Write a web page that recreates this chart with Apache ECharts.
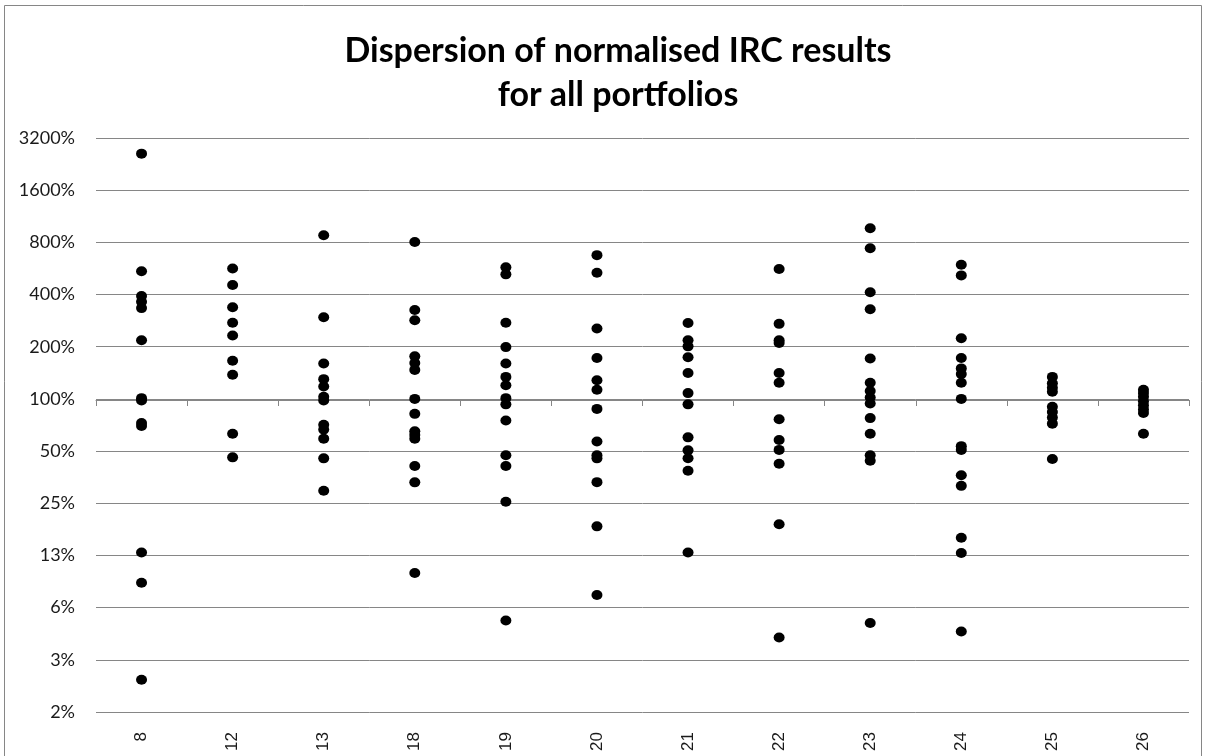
<!DOCTYPE html>
<html>
<head>
<meta charset="utf-8">
<title>Dispersion of normalised IRC results</title>
<script src="https://cdn.jsdelivr.net/npm/echarts@6/dist/echarts.min.js"></script>
<style>
  html, body { margin: 0; padding: 0; background: #ffffff; }
  #chart { width: 1214px; height: 756px; }
</style>
</head>
<body>
<div id="chart"></div>
<script>
// Portfolio identifiers along the horizontal axis
const categories = ['8', '12', '13', '18', '19', '20', '21', '22', '23', '24', '25', '26'];

// Normalised IRC results per portfolio, in percent
const irc8  = [2600, 545, 392, 363, 334, 218, 101, 98, 72.6, 69.7, 13.0, 8.7, 2.4];
const irc12 = [565, 454, 338, 275, 232, 166, 138, 63, 46];
const irc13 = [880, 296, 160, 130, 118, 103, 98, 71, 66.5, 59, 45.4, 29.5];
const irc18 = [803, 326, 284, 176, 161, 147, 100, 82, 65, 62, 59, 41, 33, 9.9];
const irc19 = [574, 523, 275, 199, 160, 134, 120, 101, 93, 75, 47.3, 41, 25.5, 5.27];
const irc20 = [675, 534, 255, 172, 128, 113, 87.6, 56.8, 47.3, 45.4, 33.1, 18.4, 7.4];
const irc21 = [274, 218, 201, 174, 141, 108, 93, 60, 50.5, 45.5, 38.5, 13.0];
const irc22 = [562, 271, 218, 210, 141, 124, 76.3, 58, 50.8, 42.3, 18.9, 4.2];
const irc23 = [965, 740, 412, 329, 171, 124, 111, 102, 94, 77.5, 63, 47.3, 44, 5.1];
const irc24 = [594, 516, 224, 172, 150, 139, 124, 100, 53.4, 50.8, 36.3, 31.5, 15.8, 12.9, 4.55];
const irc25 = [134, 123, 116, 110, 90, 84, 78, 72, 45];
const irc26 = [113, 108, 103, 97, 92, 87, 83, 63];

const resultsByPortfolio = [irc8, irc12, irc13, irc18, irc19, irc20, irc21, irc22, irc23, irc24, irc25, irc26];

// Log-2 axis labels from 1/64 up to 32 (as percentages)
const yTickLabels = ['2%', '3%', '6%', '13%', '25%', '50%', '100%', '200%', '400%', '800%', '1600%', '3200%'];

// Scatter points: [portfolio, ratio]
const points = [];
resultsByPortfolio.forEach(function (vals, i) {
  vals.forEach(function (v) { points.push([categories[i], v / 100]); });
});

const gridColor = '#868686';
const textColor = '#1a1a1a';

const chart = echarts.init(document.getElementById('chart'), null, { renderer: 'canvas' });

chart.setOption({
  backgroundColor: '#ffffff',
  animation: false,
  title: {
    text: 'Dispersion of normalised IRC results\nfor all portfolios',
    left: 613,
    top: 24,
    textAlign: 'center',
    textStyle: {
      fontFamily: 'Lato',
      fontWeight: 'bold',
      fontSize: 34,
      lineHeight: 44,
      color: '#000000'
    }
  },
  graphic: [{
    type: 'rect',
    shape: { x: 4.5, y: 5.5, width: 1197, height: 790 },
    style: { fill: 'none', stroke: gridColor, lineWidth: 1 },
    silent: true,
    z: -1
  }],
  grid: [
    { left: 96, right: 25, top: 138, bottom: 44 },
    // thin strip holding the category axis that crosses at 100%
    { left: 96, right: 25, top: 399, height: 1 }
  ],
  xAxis: [
    {
      type: 'category',
      gridIndex: 0,
      data: categories,
      boundaryGap: true,
      position: 'bottom',
      axisLine: { show: false },
      axisTick: { show: false },
      splitLine: { show: false },
      axisLabel: {
        rotate: 90,
        margin: 20,
        fontFamily: 'Liberation Sans',
        fontSize: 17,
        color: textColor
      }
    },
    {
      type: 'category',
      gridIndex: 1,
      data: categories,
      boundaryGap: true,
      position: 'top',
      axisLine: { show: true, lineStyle: { color: gridColor, width: 1 } },
      axisTick: { show: true, inside: true, length: 6, lineStyle: { color: gridColor } },
      axisLabel: { show: false },
      splitLine: { show: false }
    }
  ],
  yAxis: [
    {
      type: 'log',
      gridIndex: 0,
      logBase: 2,
      min: 1 / 64,
      max: 32,
      interval: 1,
      axisLine: { show: false },
      axisTick: { show: false },
      splitLine: { show: true, lineStyle: { color: gridColor, width: 1 } },
      axisLabel: {
        margin: 21,
        fontFamily: 'Lato',
        fontSize: 18,
        color: textColor,
        formatter: function (v) {
          return yTickLabels[Math.round(Math.log2(v)) + 6];
        }
      }
    },
    {
      type: 'value',
      gridIndex: 1,
      show: false
    }
  ],
  series: [{
    type: 'scatter',
    xAxisIndex: 0,
    yAxisIndex: 0,
    data: points,
    symbol: 'circle',
    symbolSize: [11, 10],
    itemStyle: { color: '#000000', opacity: 1 },
    z: 5
  }]
});
</script>
</body>
</html>
